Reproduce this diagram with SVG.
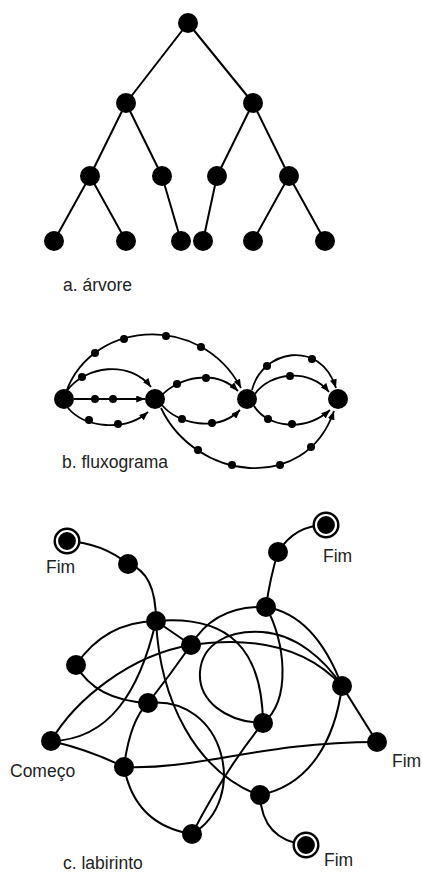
<svg xmlns="http://www.w3.org/2000/svg" width="422" height="875" viewBox="0 0 422 875">
  <style>
    .edge { fill: none; stroke: #000; stroke-width: 2; }
    .flow { fill: none; stroke: #000; stroke-width: 1.8; marker-end: url(#arrow); }
    .node { fill: #000; }
    .dot { fill: #000; }
    .label { font-family: "Liberation Sans", Arial, sans-serif; font-size: 17.5px; fill: #222; }
  </style>
  <defs>
    <marker id="arrow" viewBox="0 0 10 8" refX="10" refY="4" markerWidth="9" markerHeight="7" markerUnits="userSpaceOnUse" orient="auto">
      <path d="M0,0 L10,4 L0,8 Z" fill="#000"/>
    </marker>
    <g id="goal">
      <circle r="13.5" fill="#000"/>
      <circle r="10" fill="none" stroke="#fff" stroke-width="2.2"/>
    </g>
  </defs>
  <rect width="422" height="875" fill="#fff"/>

  <!-- a. tree -->
  <g id="tree-edges">
    <path class="edge" d="M188,23 L126,103 M188,23 L253,103 M126,103 L90,176 M126,103 L162,176 M253,103 L217,176 M253,103 L289,176 M90,176 L54,241 M90,176 L126,241 M162,176 L181,241 M217,176 L203,241 M289,176 L253,241 M289,176 L325,241"/>
  </g>
  <g id="tree-root"><circle class="node" cx="188" cy="23" r="10"/></g>
  <g id="tree-l1a"><circle class="node" cx="126" cy="103" r="10"/></g>
  <g id="tree-l1b"><circle class="node" cx="253" cy="103" r="10"/></g>
  <g id="tree-l2a"><circle class="node" cx="90" cy="176" r="10"/></g>
  <g id="tree-l2b"><circle class="node" cx="162" cy="176" r="10"/></g>
  <g id="tree-l2c"><circle class="node" cx="217" cy="176" r="10"/></g>
  <g id="tree-l2d"><circle class="node" cx="289" cy="176" r="10"/></g>
  <g id="tree-leaf1"><circle class="node" cx="54" cy="241" r="10"/></g>
  <g id="tree-leaf2"><circle class="node" cx="126" cy="241" r="10"/></g>
  <g id="tree-leaf3"><circle class="node" cx="181" cy="241" r="10"/></g>
  <g id="tree-leaf4"><circle class="node" cx="203" cy="241" r="10"/></g>
  <g id="tree-leaf5"><circle class="node" cx="253" cy="241" r="10"/></g>
  <g id="tree-leaf6"><circle class="node" cx="325" cy="241" r="10"/></g>
  <text class="label" x="63" y="291">a. árvore</text>

  <!-- b. flowchart -->
  <g id="flow-edges">
    <path class="flow" d="M64,399 C85,320 200,310 241,388"/>
    <path class="flow" d="M66,392 C85,365 130,360 151,387"/>
    <path class="flow" d="M74,399 L145,399"/>
    <path class="flow" d="M68,408 C85,428 125,432 148,412"/>
    <path class="flow" d="M162,395 C178,378 215,368 238,391"/>
    <path class="flow" d="M162,405 C178,425 218,432 240,410"/>
    <path class="flow" d="M161,408 C195,480 305,495 334,411"/>
    <path class="flow" d="M252,390 C262,350 320,338 336,388"/>
    <path class="flow" d="M255,394 C270,372 310,368 329,392"/>
    <path class="flow" d="M254,406 C268,428 305,432 330,410"/>
  </g>
  <g id="flow-dots">
    <circle class="dot" cx="95" cy="353" r="4"/>
    <circle class="dot" cx="124" cy="339" r="4"/>
    <circle class="dot" cx="166" cy="336" r="4"/>
    <circle class="dot" cx="201" cy="347" r="4"/>
    <circle class="dot" cx="82" cy="377" r="4"/>
    <circle class="dot" cx="95" cy="399" r="4"/>
    <circle class="dot" cx="113" cy="399" r="4"/>
    <circle class="dot" cx="89" cy="420" r="4"/>
    <circle class="dot" cx="118" cy="424" r="4"/>
    <circle class="dot" cx="177" cy="384" r="4"/>
    <circle class="dot" cx="206" cy="378" r="4"/>
    <circle class="dot" cx="182" cy="419" r="4"/>
    <circle class="dot" cx="212" cy="423" r="4"/>
    <circle class="dot" cx="198" cy="450" r="4"/>
    <circle class="dot" cx="232" cy="465" r="4"/>
    <circle class="dot" cx="280" cy="465" r="4"/>
    <circle class="dot" cx="311" cy="447" r="4"/>
    <circle class="dot" cx="267" cy="366" r="4"/>
    <circle class="dot" cx="312" cy="359" r="4"/>
    <circle class="dot" cx="290" cy="376" r="4"/>
    <circle class="dot" cx="268" cy="419" r="4"/>
    <circle class="dot" cx="292" cy="424" r="4"/>
  </g>
  <g id="flow-n1"><circle class="node" cx="64" cy="399" r="10"/></g>
  <g id="flow-n2"><circle class="node" cx="155" cy="399" r="10"/></g>
  <g id="flow-n3"><circle class="node" cx="247" cy="399" r="10"/></g>
  <g id="flow-n4"><circle class="node" cx="338" cy="399" r="10"/></g>
  <text class="label" x="62" y="468">b. fluxograma</text>

  <!-- c. labyrinth -->
  <g id="maze-edges">
    <path class="edge" d="M67,541 Q102,543 128,564"/>
    <path class="edge" d="M128,564 Q156,572 156,621"/>
    <path class="edge" d="M326,525 Q295,525 278,552"/>
    <path class="edge" d="M278,552 Q270,578 266,607"/>
    <path class="edge" d="M156,621 Q105,622 76,665"/>
    <path class="edge" d="M76,665 Q95,700 148,703"/>
    <path class="edge" d="M51,741 C75,700 130,655 191,645"/>
    <path class="edge" d="M51,741 C110,740 140,690 156,621"/>
    <path class="edge" d="M156,621 L191,645"/>
    <path class="edge" d="M51,741 Q90,750 124,767"/>
    <path class="edge" d="M148,703 Q130,720 124,767"/>
    <path class="edge" d="M148,703 Q170,675 191,645"/>
    <path class="edge" d="M148,703 C225,695 250,800 192,834"/>
    <path class="edge" d="M156,621 C160,700 195,770 258,795"/>
    <path class="edge" d="M156,621 C230,615 262,650 263,723"/>
    <path class="edge" d="M263,723 C225,722 198,700 200,672 C202,644 228,630 262,632 C296,634 325,660 342,686"/>
    <path class="edge" d="M191,645 Q215,605 266,607"/>
    <path class="edge" d="M191,645 C240,638 300,640 342,686"/>
    <path class="edge" d="M266,607 Q315,615 342,686"/>
    <path class="edge" d="M266,607 C285,640 292,700 263,723"/>
    <path class="edge" d="M263,723 Q225,770 192,834"/>
    <path class="edge" d="M342,686 L377,742"/>
    <path class="edge" d="M342,686 C335,740 310,785 260,795"/>
    <path class="edge" d="M124,767 C200,770 260,742 377,742"/>
    <path class="edge" d="M124,767 Q135,825 192,834"/>
    <path class="edge" d="M260,795 Q262,840 306,845"/>
  </g>
  <g id="maze-end1"><use href="#goal" x="67" y="541"/></g>
  <g id="maze-a"><circle class="node" cx="128" cy="564" r="10"/></g>
  <g id="maze-b"><circle class="node" cx="156" cy="621" r="10"/></g>
  <g id="maze-c"><circle class="node" cx="76" cy="665" r="10"/></g>
  <g id="maze-d"><circle class="node" cx="191" cy="645" r="10"/></g>
  <g id="maze-e"><circle class="node" cx="148" cy="703" r="10"/></g>
  <g id="maze-start"><circle class="node" cx="51" cy="741" r="10"/></g>
  <g id="maze-f"><circle class="node" cx="124" cy="767" r="10"/></g>
  <g id="maze-g"><circle class="node" cx="192" cy="834" r="10"/></g>
  <g id="maze-end2"><use href="#goal" x="326" y="525"/></g>
  <g id="maze-h"><circle class="node" cx="278" cy="552" r="10"/></g>
  <g id="maze-i"><circle class="node" cx="266" cy="607" r="10"/></g>
  <g id="maze-j"><circle class="node" cx="342" cy="686" r="10"/></g>
  <g id="maze-k"><circle class="node" cx="263" cy="723" r="10"/></g>
  <g id="maze-l"><circle class="node" cx="377" cy="742" r="10"/></g>
  <g id="maze-m"><circle class="node" cx="260" cy="795" r="10"/></g>
  <g id="maze-end3"><use href="#goal" x="306" y="845"/></g>
  <text class="label" x="46" y="573">Fim</text>
  <text class="label" x="323" y="562">Fim</text>
  <text class="label" x="392" y="767">Fim</text>
  <text class="label" x="324" y="866">Fim</text>
  <text class="label" x="10" y="777">Começo</text>
  <text class="label" x="63" y="869">c. labirinto</text>
</svg>
